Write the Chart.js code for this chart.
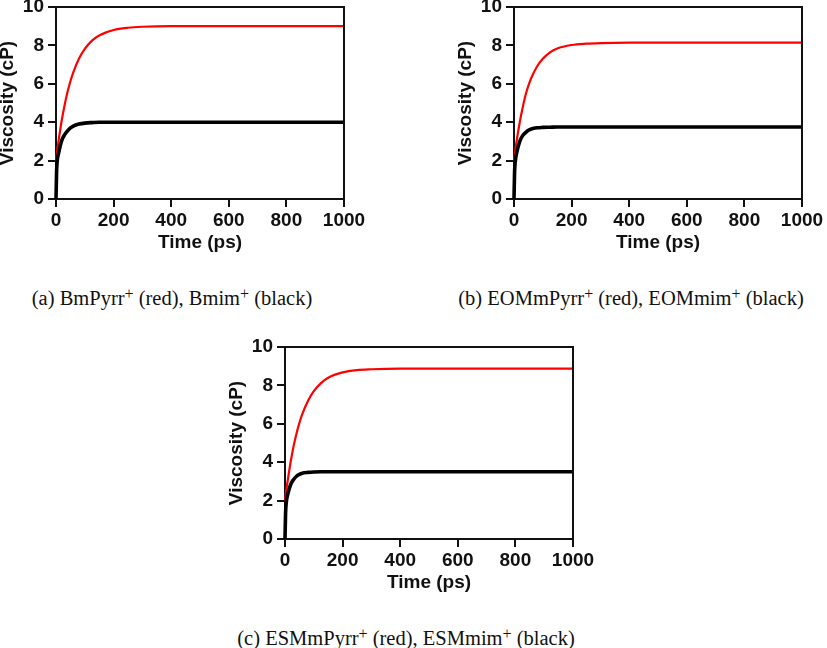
<!DOCTYPE html>
<html>
<head>
<meta charset="utf-8">
<script src="https://cdn.jsdelivr.net/npm/chart.js@4.4.1/dist/chart.umd.min.js"></script>
<style>
	html, body { margin: 0; padding: 0; background: #fff; }
	body { width: 827px; height: 648px; position: relative; overflow: hidden; }
	.panel { position: absolute; width: 373px; height: 279px; }
	.caption {
		position: absolute; width: 460px; text-align: center; white-space: nowrap;
		font-family: "Liberation Serif", "Times New Roman", serif; font-size: 20.5px; line-height: 26px; color: #111;
	}
	.caption sup { font-size: 78%; line-height: 0; vertical-align: 0.4em; }
</style>
</head>
<body>
<div class="panel" style="left:-4px; top:-20px;"><canvas id="chartA"></canvas></div>
<div class="panel" style="left:454px; top:-20px;"><canvas id="chartB"></canvas></div>
<div class="panel" style="left:225px; top:320px;"><canvas id="chartC"></canvas></div>

<div class="caption" style="left:-58px; top:285px;">(a) BmPyrr<sup>+</sup> (red), Bmim<sup>+</sup> (black)</div>
<div class="caption" style="left:401px; top:285px;">(b) EOMmPyrr<sup>+</sup> (red), EOMmim<sup>+</sup> (black)</div>
<div class="caption" style="left:176px; top:625px;">(c) ESMmPyrr<sup>+</sup> (red), ESMmim<sup>+</sup> (black)</div>

<script>
// time axis shared by every curve (ps)
const timePs = [0, 2, 4, 10, 20, 30, 40, 50, 60, 80, 100, 125, 150, 200, 250, 300, 400, 600, 800, 1000];

// (a) BmPyrr+ / Bmim+
const redA   = [2.0, 2.25, 2.5, 3.14, 4.1, 4.9, 5.57, 6.13, 6.6, 7.32, 7.82, 8.25, 8.52, 8.8, 8.92, 8.97, 9.0, 9.0, 9.0, 9.0];
const blackA = [0, 1.4, 1.95, 2.45, 3.05, 3.35, 3.55, 3.7, 3.8, 3.9, 3.95, 3.98, 4.0, 4.0, 4.0, 4.0, 4.0, 4.0, 4.0, 4.0];

// (b) EOMmPyrr+ / EOMmim+
const redB   = [2.0, 2.25, 2.47, 3.1, 4.0, 4.75, 5.4, 5.9, 6.3, 6.9, 7.3, 7.64, 7.84, 8.02, 8.09, 8.12, 8.14, 8.14, 8.14, 8.14];
const blackB = [0, 1.4, 1.9, 2.45, 3.0, 3.3, 3.46, 3.58, 3.65, 3.71, 3.73, 3.74, 3.75, 3.75, 3.75, 3.75, 3.75, 3.75, 3.75, 3.75];

// (c) ESMmPyrr+ / ESMmim+
const redC   = [2.0, 2.25, 2.5, 3.1, 4.05, 4.85, 5.5, 6.05, 6.5, 7.2, 7.7, 8.12, 8.4, 8.68, 8.8, 8.84, 8.87, 8.87, 8.87, 8.87];
const blackC = [0, 1.35, 1.85, 2.35, 2.85, 3.1, 3.27, 3.37, 3.43, 3.47, 3.49, 3.5, 3.5, 3.5, 3.5, 3.5, 3.5, 3.5, 3.5, 3.5];

const xTicks = [0, 200, 400, 600, 800, 1000];
const yTicks = [0, 2, 4, 6, 8, 10];

function toPoints(ys) {
	return timePs.map(function(t, i) { return { x: t, y: ys[i] }; });
}

// top + right edges of the plot box
const frameBox = {
	id: 'frameBox',
	afterDraw(chart) {
		const a = chart.chartArea, ctx = chart.ctx;
		ctx.save();
		ctx.strokeStyle = '#111';
		ctx.lineWidth = 2;
		ctx.beginPath();
		ctx.moveTo(a.left, a.top);
		ctx.lineTo(a.right, a.top);
		ctx.lineTo(a.right, a.bottom);
		ctx.stroke();
		ctx.restore();
	}
};

const tickFont = { family: '"Liberation Sans", Arial, sans-serif', size: 19, weight: 'bold' };

function makeChart(id, red, black) {
	return new Chart(document.getElementById(id), {
		type: 'scatter',
		data: {
			datasets: [
				{ data: toPoints(black), borderColor: '#000', borderWidth: 3.6, showLine: true, pointRadius: 0, cubicInterpolationMode: 'monotone', clip: 4 },
				{ data: toPoints(red), borderColor: '#ff0000', borderWidth: 2.2, showLine: true, pointRadius: 0, cubicInterpolationMode: 'monotone', clip: 4 }
			]
		},
		options: {
			responsive: true,
			maintainAspectRatio: false,
			animation: false,
			layout: { padding: { top: 27, right: 25, bottom: 0, left: 0 } },
			plugins: { legend: { display: false }, tooltip: { enabled: false } },
			scales: {
				x: {
					type: 'linear', min: 0, max: 1000,
					afterBuildTicks: function(s) { s.ticks = xTicks.map(function(v) { return { value: v }; }); },
					afterFit: function(s) { s.height = 60; },
					ticks: { color: '#111', font: tickFont, padding: 2, maxRotation: 0, callback: function(v) { return String(v); } },
					grid: { drawOnChartArea: false, drawTicks: true, tickLength: 8, color: '#111', lineWidth: 2 },
					border: { display: true, color: '#111', width: 2 },
					title: { display: true, text: 'Time (ps)', color: '#111', font: tickFont, padding: { top: 0, bottom: 5 } }
				},
				y: {
					type: 'linear', min: 0, max: 10,
					afterBuildTicks: function(s) { s.ticks = yTicks.map(function(v) { return { value: v }; }); },
					afterFit: function(s) { s.width = 60; },
					ticks: { color: '#111', font: tickFont, padding: 4, callback: function(v) { return String(v); } },
					grid: { drawOnChartArea: false, drawTicks: true, tickLength: 8, color: '#111', lineWidth: 2 },
					border: { display: true, color: '#111', width: 2 },
					title: { display: true, text: 'Viscosity (cP)', color: '#111', font: tickFont, padding: { top: 0, bottom: 0 } }
				}
			}
		},
		plugins: [frameBox]
	});
}

makeChart('chartA', redA, blackA);
makeChart('chartB', redB, blackB);
makeChart('chartC', redC, blackC);
</script>
</body>
</html>
